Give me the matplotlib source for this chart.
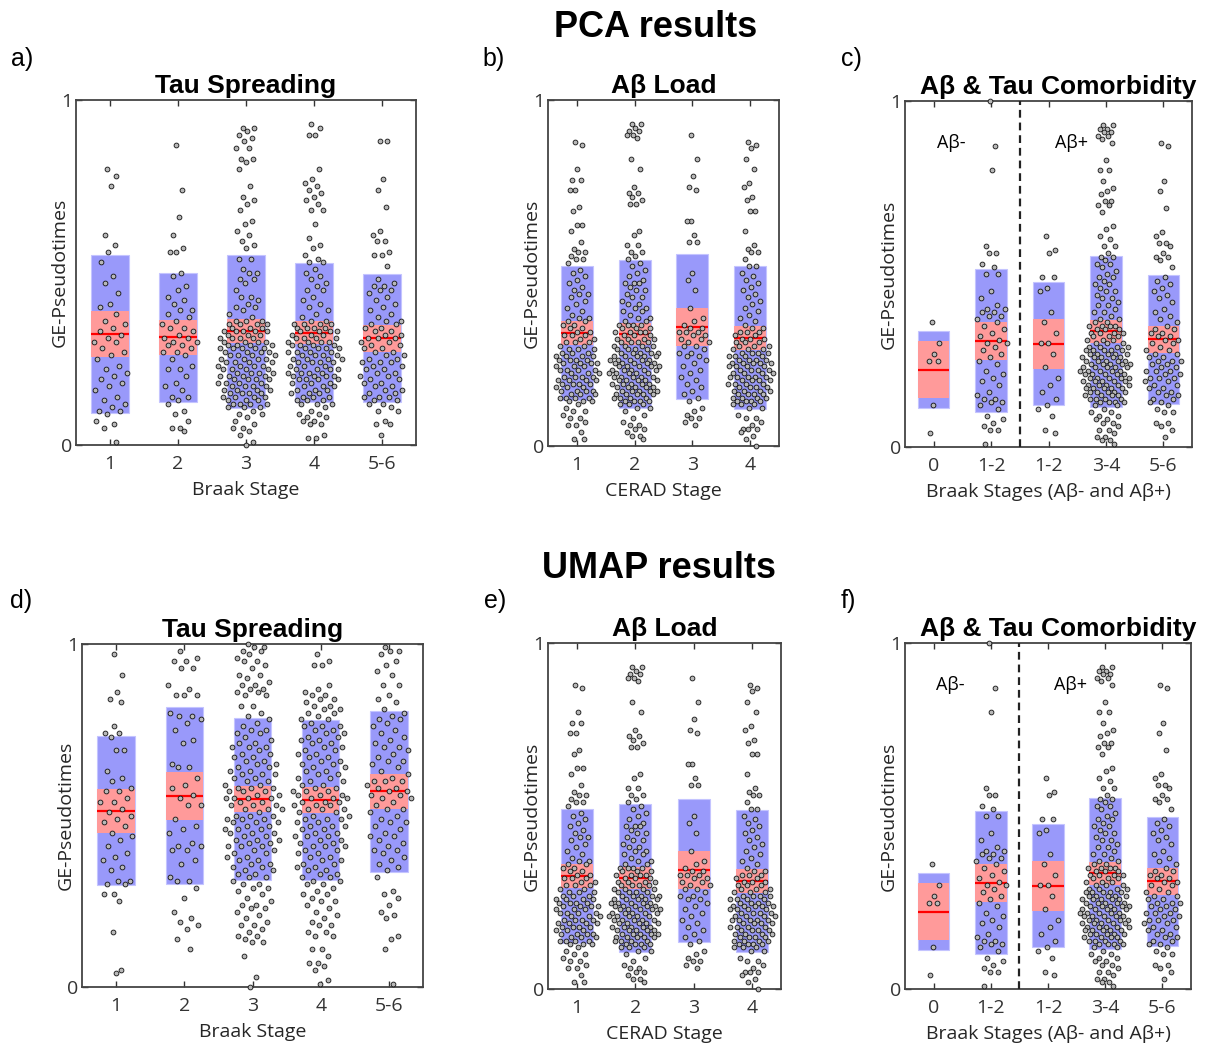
import numpy as np
import matplotlib
matplotlib.use("Agg")
import matplotlib.pyplot as plt
from matplotlib.patches import Rectangle

# ------------------------------------------------------------------ data
braak_labels = ["1", "2", "3", "4", "5-6"]
cerad_labels = ["1", "2", "3", "4"]
comorb_labels = ["0", "1-2", "1-2", "3-4", "5-6"]

# GE-pseudotimes (x100), PCA, Braak stage groups
pca_braak_1 = [80, 78, 75, 61, 58, 56, 53, 49, 47, 44, 41, 40, 38, 36, 35, 33, 32, 31, 30, 30,
               28, 26, 25, 23, 22, 21, 20, 19, 17, 16, 14, 13, 12, 11, 10, 10, 9, 7, 6, 5, 1, 34, 27, 18]
pca_braak_2 = [87, 74, 66, 61, 57, 56, 56, 50, 49, 46, 45, 43, 42, 41, 39, 39, 38, 37, 36, 35,
               34, 34, 33, 32, 31, 31, 30, 29, 29, 28, 27, 26, 25, 23, 22, 22, 20, 18, 17, 16,
               14, 14, 13, 12, 10, 9, 7, 5, 5, 4, 30, 27]
pca_braak_3 = [92, 92, 91, 90, 89, 88, 86, 86, 83, 83, 82, 80, 75, 72, 71, 70, 68, 65, 64, 62,
               61, 59, 58, 57, 54, 54, 51, 50, 50, 48, 48, 47, 45, 43, 43, 42, 41, 40, 40, 39,
               38, 37, 36, 36, 36, 35, 35, 35, 35, 34, 34, 34, 33, 33, 33, 33, 32, 32, 32, 31,
               31, 31, 30, 30, 30, 29, 29, 29, 28, 28, 28, 28, 27, 27, 27, 26, 26, 26, 25, 25,
               25, 24, 24, 24, 23, 23, 23, 22, 22, 22, 21, 21, 21, 20, 20, 20, 19, 19, 19, 18,
               18, 18, 17, 17, 17, 16, 16, 16, 15, 15, 15, 14, 14, 14, 13, 13, 13, 12, 12, 12,
               11, 11, 12, 11, 10, 9, 9, 8, 7, 6, 5, 5, 4, 3, 1, 0, 31, 29, 27, 24,
               22, 19, 17, 15, 26, 28, 33, 21, 30, 18, 23, 25, 20, 16, 14]
pca_braak_4 = [93, 92, 90, 90, 80, 77, 76, 75, 74, 73, 72, 71, 70, 68, 68, 64, 60, 58, 57, 55,
               54, 53, 53, 51, 50, 49, 48, 47, 46, 45, 45, 43, 42, 41, 40, 39, 38, 37, 36, 36,
               35, 35, 35, 34, 34, 34, 33, 33, 33, 32, 32, 32, 31, 31, 31, 30, 30, 30, 29, 29,
               29, 28, 28, 28, 27, 27, 27, 26, 26, 26, 25, 25, 25, 24, 24, 24, 23, 23, 22, 22,
               22, 21, 21, 21, 20, 20, 20, 19, 19, 19, 18, 18, 17, 17, 16, 16, 15, 15, 14, 14,
               13, 13, 12, 12, 33, 30, 28, 26, 24, 22, 20, 18, 27, 25, 12, 11, 10, 9, 9, 8,
               8, 7, 7, 6, 6, 3, 2, 2, 31, 29, 23, 21, 19, 17, 15, 13, 35, 34, 16, 14]
pca_braak_5 = [88, 88, 77, 74, 69, 62, 61, 59, 59, 56, 55, 55, 52, 48, 47, 46, 46, 45, 45, 44,
               43, 42, 41, 39, 38, 37, 36, 36, 35, 34, 34, 33, 33, 32, 32, 31, 31, 30, 30, 29,
               29, 28, 28, 27, 26, 25, 24, 24, 23, 22, 22, 21, 20, 20, 19, 18, 17, 17, 16, 15,
               14, 14, 13, 13, 12, 12, 11, 10, 10, 7, 6, 6, 3, 27, 25, 23, 21, 19, 18, 16,
               15, 14, 26, 40, 35, 31, 24]
pca_braak_mean = [0.322, 0.312, 0.330, 0.326, 0.310]
pca_braak_sd = [0.228, 0.186, 0.222, 0.202, 0.186]
pca_braak_ci = [0.067, 0.051, 0.035, 0.033, 0.039]

# PCA, CERAD stage groups
pca_cerad_1 = [88, 87, 80, 77, 77, 74, 74, 69, 68, 64, 64, 62, 59, 57, 56, 56, 55, 54, 54, 53,
               51, 50, 49, 48, 47, 46, 45, 44, 44, 43, 42, 41, 40, 39, 38, 37, 37, 36, 36, 35,
               35, 34, 34, 33, 33, 32, 32, 31, 31, 30, 30, 29, 29, 28, 28, 27, 27, 27, 26, 26,
               26, 25, 25, 25, 24, 24, 24, 23, 23, 23, 22, 22, 22, 21, 21, 21, 20, 20, 20, 19,
               19, 19, 18, 18, 18, 17, 17, 17, 16, 16, 16, 15, 15, 15, 14, 14, 14, 13, 13, 13,
               12, 11, 10, 10, 9, 8, 8, 7, 6, 6, 4, 2, 2, 28, 26, 24, 22, 20, 18, 16,
               14, 30, 32, 25, 19]
pca_cerad_2 = [93, 93, 92, 91, 91, 90, 90, 89, 83, 80, 75, 73, 73, 72, 71, 70, 70, 62, 61, 58,
               58, 56, 56, 55, 54, 53, 52, 51, 50, 49, 48, 47, 47, 46, 45, 44, 43, 42, 41, 40,
               40, 39, 38, 37, 36, 36, 35, 35, 35, 34, 34, 34, 33, 33, 33, 32, 32, 32, 31, 31,
               31, 30, 30, 30, 29, 29, 29, 28, 28, 28, 27, 27, 27, 26, 26, 26, 25, 25, 25, 24,
               24, 24, 23, 23, 23, 22, 22, 22, 21, 21, 21, 20, 20, 20, 19, 19, 19, 18, 18, 18,
               17, 17, 17, 16, 16, 16, 15, 15, 15, 14, 14, 14, 13, 13, 13, 12, 12, 12, 11, 11,
               28, 26, 24, 22, 20, 18, 16, 14, 27, 25, 23, 21, 19, 17, 15, 13, 30, 10, 9, 8,
               7, 6, 6, 5, 5, 4, 3, 3, 2, 26, 24, 22, 20, 18, 16, 29, 27, 25, 23, 21,
               19, 17, 15, 31, 33, 35, 37, 39, 41, 43, 45, 47]
pca_cerad_3 = [90, 83, 78, 75, 74, 65, 65, 61, 59, 59, 50, 48, 45, 40, 37, 35, 34, 34, 33, 33,
               32, 32, 31, 31, 30, 30, 29, 28, 27, 27, 26, 25, 24, 22, 21, 20, 18, 17, 15, 14,
               13, 11, 10, 9, 8, 8, 7, 6, 36, 33, 29, 26, 23, 19, 16]
pca_cerad_4 = [88, 87, 86, 83, 80, 76, 75, 72, 71, 68, 68, 62, 58, 57, 56, 56, 54, 52, 52, 50,
               49, 48, 47, 46, 45, 44, 43, 42, 41, 40, 39, 38, 37, 36, 34, 34, 33, 33, 32, 32,
               31, 31, 30, 30, 29, 29, 28, 28, 27, 27, 27, 26, 26, 26, 25, 25, 25, 24, 24, 24,
               23, 23, 23, 22, 22, 22, 21, 21, 21, 20, 20, 20, 19, 19, 19, 18, 18, 18, 17, 17,
               17, 16, 16, 16, 15, 15, 15, 14, 14, 14, 13, 13, 13, 12, 12, 12, 11, 11, 9, 8,
               8, 7, 6, 5, 5, 5, 4, 3, 2, 0, 28, 26, 24, 22, 20, 18, 16, 14, 30, 35,
               27, 23, 19, 15, 25, 21, 17, 13, 33, 31, 29, 24, 20]
pca_cerad_mean = [0.326, 0.323, 0.345, 0.313]
pca_cerad_sd = [0.194, 0.214, 0.209, 0.206]
pca_cerad_ci = [0.034, 0.032, 0.055, 0.035]

# PCA, Abeta-/Abeta+ by Braak stage
pca_comorb_1 = [36, 30, 27, 25, 25, 12, 4]
pca_comorb_2 = [100, 87, 80, 58, 56, 56, 53, 52, 50, 50, 45, 43, 41, 40, 40, 39, 39, 38, 38, 37,
                36, 35, 34, 33, 31, 30, 30, 29, 28, 27, 26, 25, 22, 21, 20, 19, 18, 16, 15, 14,
                14, 13, 13, 12, 11, 9, 8, 7, 6, 5, 5, 1, 32, 24]
pca_comorb_3 = [61, 57, 56, 49, 49, 46, 45, 39, 36, 30, 30, 27, 23, 20, 18, 16, 14, 12, 11, 9,
                5, 4, 33]
pca_comorb_4 = [93, 93, 92, 92, 91, 91, 90, 90, 89, 88, 83, 80, 80, 77, 75, 74, 73, 71, 71, 70,
                70, 68, 64, 63, 61, 60, 58, 58, 56, 55, 55, 54, 53, 53, 52, 51, 50, 49, 48, 47,
                46, 45, 44, 43, 42, 41, 40, 39, 38, 37, 36, 36, 35, 35, 35, 34, 34, 34, 33, 33,
                33, 32, 32, 32, 31, 31, 30, 30, 29, 29, 29, 28, 28, 28, 27, 27, 27, 26, 26, 26,
                25, 25, 25, 24, 24, 24, 23, 23, 23, 22, 22, 22, 21, 21, 21, 20, 20, 20, 19, 19,
                19, 18, 18, 18, 17, 17, 17, 16, 16, 16, 15, 15, 15, 14, 14, 14, 13, 13, 13, 12,
                12, 11, 10, 10, 9, 9, 8, 8, 7, 7, 6, 5, 5, 4, 3, 3, 2, 2, 1, 30,
                29, 28, 27, 26, 25, 24, 23, 22, 21, 20, 19, 18, 17, 16, 15, 14, 13, 28, 26, 24,
                22, 20, 18, 16, 31, 33, 35, 37, 39, 41, 43, 45, 47, 49, 27, 25, 23, 21, 19, 17]
pca_comorb_5 = [88, 87, 77, 74, 69, 62, 61, 59, 59, 58, 56, 55, 55, 54, 52, 49, 48, 47, 46, 45,
                44, 43, 42, 40, 39, 38, 37, 36, 35, 34, 34, 33, 33, 32, 32, 31, 31, 30, 30, 29,
                28, 28, 27, 26, 25, 25, 24, 23, 23, 22, 22, 21, 20, 20, 19, 18, 17, 17, 16, 15,
                15, 14, 13, 11, 10, 10, 7, 7, 6, 5, 3, 26, 24, 22, 20, 18, 16, 14, 27, 25,
                21, 19, 12, 13]
pca_comorb_mean = [0.223, 0.307, 0.298, 0.334, 0.311]
pca_comorb_sd = [0.111, 0.207, 0.178, 0.219, 0.187]
pca_comorb_ci = [0.082, 0.055, 0.073, 0.032, 0.040]

# UMAP, Braak stage groups
umap_braak_1 = [97, 91, 86, 84, 83, 76, 74, 74, 73, 69, 69, 63, 61, 58, 57, 57, 55, 54, 54, 52,
                51, 50, 49, 48, 47, 45, 44, 43, 41, 39, 38, 37, 35, 34, 31, 31, 30, 30, 27, 27,
                25, 16, 5, 4, 60]
umap_braak_2 = [98, 96, 95, 95, 93, 93, 88, 87, 85, 85, 85, 80, 79, 79, 78, 77, 75, 72, 71, 65,
                64, 64, 61, 59, 58, 56, 53, 53, 49, 46, 45, 42, 41, 41, 40, 40, 37, 36, 32, 31,
                31, 29, 26, 22, 20, 19, 18, 17, 14, 11, 55, 47]
umap_braak_3 = [100, 99, 99, 98, 98, 97, 96, 95, 95, 94, 93, 91, 91, 90, 89, 88, 88, 87, 87, 86,
                86, 85, 85, 82, 82, 78, 77, 76, 75, 74, 74, 73, 72, 71, 70, 70, 69, 68, 67, 67,
                66, 65, 64, 64, 63, 62, 62, 61, 60, 60, 59, 58, 58, 57, 57, 56, 56, 55, 55, 55,
                54, 54, 53, 53, 52, 52, 51, 50, 50, 49, 49, 48, 48, 47, 46, 46, 45, 45, 44, 43,
                43, 42, 41, 41, 40, 39, 39, 38, 37, 36, 35, 34, 33, 32, 31, 30, 30, 29, 29, 28,
                27, 26, 25, 24, 24, 23, 23, 22, 21, 20, 19, 18, 18, 17, 16, 15, 15, 14, 13, 13,
                9, 3, 0, 80, 79, 75, 71, 68, 65, 61, 57, 53, 49, 47, 44, 42, 40, 38, 36, 34,
                32, 50, 46, 63, 59, 55, 52, 48, 45, 43, 41, 37, 35, 33, 70, 66, 62, 58]
umap_braak_4 = [97, 95, 94, 94, 88, 87, 86, 85, 85, 84, 84, 83, 82, 82, 81, 81, 80, 80, 79, 78,
                77, 76, 76, 75, 74, 73, 72, 71, 70, 69, 68, 67, 66, 65, 64, 63, 62, 61, 60, 59,
                58, 57, 57, 56, 56, 55, 55, 54, 54, 53, 53, 52, 52, 51, 50, 49, 49, 48, 47, 47,
                46, 45, 44, 44, 43, 42, 41, 41, 40, 39, 38, 37, 36, 35, 34, 33, 32, 31, 30, 29,
                28, 27, 26, 25, 25, 22, 20, 19, 18, 18, 16, 16, 15, 15, 11, 11, 9, 7, 7, 6,
                5, 2, 1, 76, 73, 70, 67, 64, 61, 58, 55, 52, 50, 48, 46, 44, 42, 40, 38, 36,
                34, 32, 74, 71, 68, 65, 62, 59, 56, 53, 49, 45, 43, 39, 35, 33, 60, 57, 54, 51,
                47, 41, 37, 63, 66, 69, 72, 75, 78, 30, 27, 24, 21, 23, 31]
umap_braak_5 = [99, 98, 98, 97, 95, 94, 92, 91, 88, 88, 85, 84, 83, 81, 80, 79, 78, 78, 77, 76,
                75, 74, 73, 72, 71, 70, 69, 68, 67, 66, 65, 64, 63, 62, 61, 60, 60, 59, 58, 58,
                57, 57, 56, 55, 55, 54, 53, 52, 51, 50, 49, 48, 47, 46, 45, 44, 43, 42, 41, 40,
                39, 38, 37, 36, 35, 34, 32, 28, 27, 26, 24, 22, 21, 20, 15, 14, 11, 1, 60, 56,
                52, 48, 44, 40, 70, 66]
umap_braak_mean = [0.514, 0.558, 0.548, 0.544, 0.570]
umap_braak_sd = [0.218, 0.257, 0.237, 0.233, 0.236]
umap_braak_ci = [0.064, 0.070, 0.037, 0.038, 0.050]

# UMAP, CERAD stage groups (same pseudotime distribution as PCA panel)
umap_cerad_1 = list(pca_cerad_1)
umap_cerad_2 = list(pca_cerad_2)
umap_cerad_3 = list(pca_cerad_3)
umap_cerad_4 = list(pca_cerad_4)
umap_cerad_mean = [0.326, 0.322, 0.343, 0.312]
umap_cerad_sd = [0.194, 0.214, 0.207, 0.206]
umap_cerad_ci = [0.034, 0.032, 0.055, 0.034]

# UMAP, Abeta-/Abeta+ by Braak stage
umap_comorb_1 = list(pca_comorb_1)
umap_comorb_2 = list(pca_comorb_2)
umap_comorb_3 = list(pca_comorb_3)
umap_comorb_4 = list(pca_comorb_4)
umap_comorb_5 = list(pca_comorb_5)
umap_comorb_mean = [0.223, 0.307, 0.298, 0.334, 0.311]
umap_comorb_sd = [0.111, 0.207, 0.178, 0.219, 0.187]
umap_comorb_ci = [0.082, 0.055, 0.073, 0.032, 0.040]

# ------------------------------------------------------------------ style
W, H = 1207, 1047
BLUE = "#9999fa"
BLUE_EDGE = "#c4c4ff"
PINK = "#ff9a9a"
RED = "#ff0000"
TXT = "#262626"
AX_FONT = ["Open Sans", "DejaVu Sans"]
TITLE_FONT = ["Liberation Sans", "DejaVu Sans"]

fig = plt.figure(figsize=(W / 100, H / 100), dpi=100)


def px_axes(l, t, r, b):
    return fig.add_axes([l / W, 1 - b / H, (r - l) / W, (b - t) / H])


def jitter(vals, w):
    v = np.asarray(vals, dtype=float)
    d = np.exp(-0.5 * ((v[:, None] - v[None, :]) / 0.05) ** 2).sum(1)
    r = d / d.max()
    order = np.argsort(-v, kind="stable")
    u = np.empty(len(v))
    u[order] = (np.arange(len(v)) * 0.6180339887 + 0.31) % 1.0
    return (2 * u - 1) * w * (0.2 + 0.8 * r)


def panel(box, groups, means, sds, cis, labels, xlabel, title, letter, letter_xy,
          comorb=False, title_x=0.5):
    l, t, r, b = box
    ax = px_axes(l, t, r, b)
    wpx, hpx = r - l, b - t
    n = len(groups)
    bw = 0.55
    for i, (g, m, s, c) in enumerate(zip(groups, means, sds, cis)):
        x = i + 1
        ax.add_patch(Rectangle((x - bw / 2, m - s), bw, 2 * s, facecolor=BLUE,
                               edgecolor=BLUE_EDGE, lw=0.8, zorder=1))
        ax.add_patch(Rectangle((x - bw / 2, m - c), bw, 2 * c, facecolor=PINK,
                               edgecolor="none", zorder=2))
        ax.plot([x - bw / 2, x + bw / 2], [m, m], color=RED, lw=1.6, zorder=3,
                solid_capstyle="butt")
        y = np.asarray(g, dtype=float) / 100.0
        wj = 0.45 * min(1.0, (len(y) / 170.0) ** 0.4)
        ax.scatter(x + jitter(y, wj), y, s=12, facecolor="#b8b8b8", edgecolor="#111111",
                   linewidths=0.6, zorder=4, clip_on=False)
    ax.set_xlim(0.5, n + 0.5)
    ax.set_ylim(0, 1)
    ax.set_xticks(range(1, n + 1))
    ax.set_xticklabels(labels)
    ax.set_yticks([0, 1])
    ax.set_yticklabels(["0", "1"])
    ax.tick_params(axis="both", direction="in", top=True, right=True, length=4,
                   width=1.0, color="#333333", labelsize=14, labelcolor="#333333")
    ax.tick_params(axis="x", pad=7)
    ax.tick_params(axis="y", pad=3)
    for lab in ax.get_xticklabels() + ax.get_yticklabels():
        lab.set_family(AX_FONT)
    for sp in ax.spines.values():
        sp.set_linewidth(1.3)
        sp.set_color("#444444")
    ax.set_xlabel(xlabel, fontsize=14, family=AX_FONT, color=TXT)
    ax.xaxis.set_label_coords(0.5, -36.0 / hpx)
    ax.set_ylabel("GE-Pseudotimes", fontsize=14, family=AX_FONT, color=TXT)
    ax.yaxis.set_label_coords(-7.0 / wpx, 0.5)
    ax.set_title(title, fontsize=19, fontweight="bold", family=TITLE_FONT,
                 color="black", pad=5, x=title_x)
    fig.text(letter_xy[0] / W, 1 - letter_xy[1] / H, letter, fontsize=18,
             family=TITLE_FONT, color="black", ha="left", va="baseline")
    if comorb:
        ax.axvline(2.5, color="#222222", lw=1.6, ls=(0, (3.5, 2.2)), zorder=5)
        ax.text(1.3, 0.88, "A\u03b2-", fontsize=13, family=AX_FONT, ha="center",
                va="center", color="black")
        ax.text(3.4, 0.88, "A\u03b2+", fontsize=13, family=AX_FONT, ha="center",
                va="center", color="black")
    return ax


panel((76, 100, 416, 445),
      [pca_braak_1, pca_braak_2, pca_braak_3, pca_braak_4, pca_braak_5],
      pca_braak_mean, pca_braak_sd, pca_braak_ci, braak_labels,
      "Braak Stage", "Tau Spreading", "a)", (11, 66))
panel((548, 100, 779, 446),
      [pca_cerad_1, pca_cerad_2, pca_cerad_3, pca_cerad_4],
      pca_cerad_mean, pca_cerad_sd, pca_cerad_ci, cerad_labels,
      "CERAD Stage", "A\u03b2 Load", "b)", (482, 66))
panel((905, 101, 1192, 447),
      [pca_comorb_1, pca_comorb_2, pca_comorb_3, pca_comorb_4, pca_comorb_5],
      pca_comorb_mean, pca_comorb_sd, pca_comorb_ci, comorb_labels,
      "Braak Stages (A\u03b2- and A\u03b2+)", "A\u03b2 & Tau Comorbidity", "c)", (841, 66),
      comorb=True, title_x=0.535)
panel((82, 644, 423, 987),
      [umap_braak_1, umap_braak_2, umap_braak_3, umap_braak_4, umap_braak_5],
      umap_braak_mean, umap_braak_sd, umap_braak_ci, braak_labels,
      "Braak Stage", "Tau Spreading", "d)", (10, 608))
panel((548, 643, 781, 989),
      [umap_cerad_1, umap_cerad_2, umap_cerad_3, umap_cerad_4],
      umap_cerad_mean, umap_cerad_sd, umap_cerad_ci, cerad_labels,
      "CERAD Stage", "A\u03b2 Load", "e)", (484, 608))
panel((905, 643, 1191, 989),
      [umap_comorb_1, umap_comorb_2, umap_comorb_3, umap_comorb_4, umap_comorb_5],
      umap_comorb_mean, umap_comorb_sd, umap_comorb_ci, comorb_labels,
      "Braak Stages (A\u03b2- and A\u03b2+)", "A\u03b2 & Tau Comorbidity", "f)", (841, 608),
      comorb=True, title_x=0.535)

fig.text(656 / W, 1 - 37 / H, "PCA results", fontsize=26, fontweight="bold",
         family=TITLE_FONT, ha="center", va="baseline", color="black")
fig.text(659 / W, 1 - 578 / H, "UMAP results", fontsize=26, fontweight="bold",
         family=TITLE_FONT, ha="center", va="baseline", color="black")

fig.savefig("out.png", dpi=100)
